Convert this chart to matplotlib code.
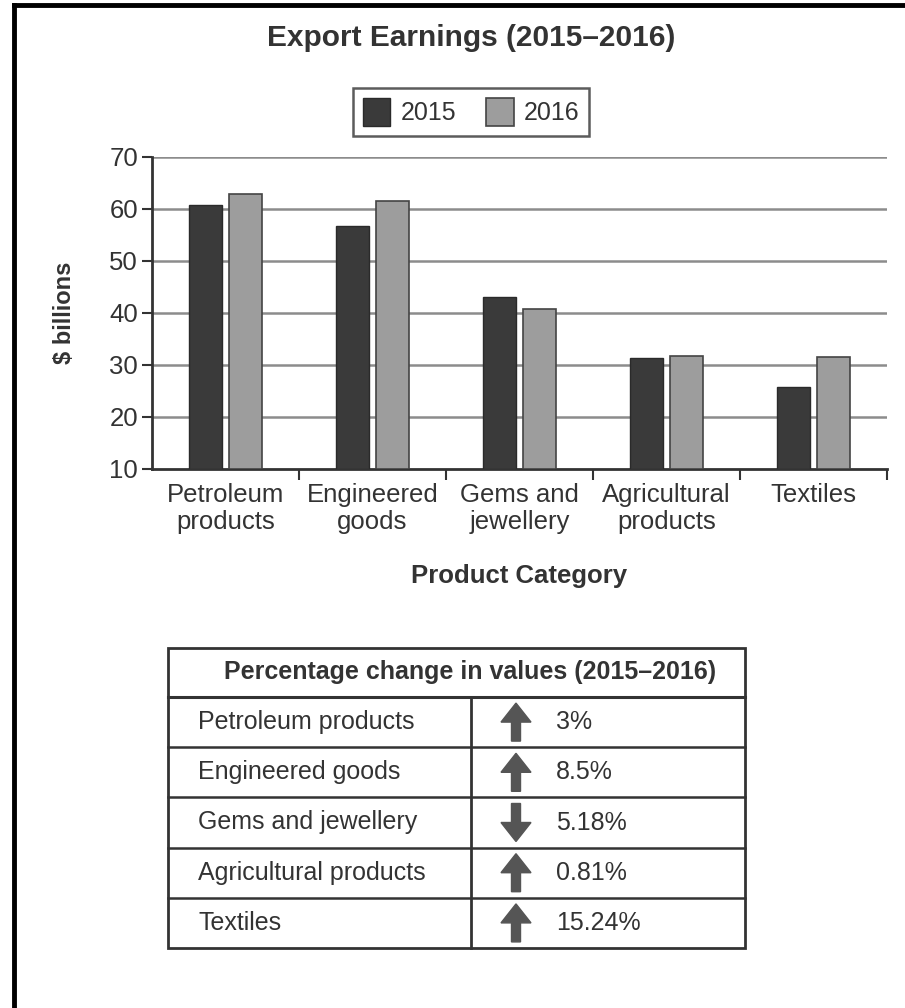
import matplotlib.pyplot as plt
import numpy as np
from matplotlib.patches import Rectangle, FancyArrow
from matplotlib.lines import Line2D

plt.rcParams['font.family'] = ['Liberation Sans', 'DejaVu Sans']

categories = ['Petroleum\nproducts', 'Engineered\ngoods', 'Gems and\njewellery',
              'Agricultural\nproducts', 'Textiles']
values_2015 = [60.8, 56.7, 43.1, 31.3, 25.8]
values_2016 = [62.9, 61.5, 40.8, 31.7, 31.6]
y_ticks = [10, 20, 30, 40, 50, 60, 70]

table_rows = ['Petroleum products', 'Engineered goods', 'Gems and jewellery',
              'Agricultural products', 'Textiles']
pct_change = ['3%', '8.5%', '5.18%', '0.81%', '15.24%']
direction = ['up', 'up', 'down', 'up', 'up']

text_c = '#333333'
dark = '#3a3a3a'
light = '#9d9d9d'

W, H = 905, 1008
fig = plt.figure(figsize=(W / 100, H / 100), dpi=100)

# bar chart
ax = fig.add_axes([152 / W, 1 - 469 / H, (887 - 152) / W, (469 - 157) / H])
x = np.arange(len(categories))
bw = 0.225
ax.bar(x - 0.138, np.array(values_2015) - 10, bw, bottom=10, color=dark,
       edgecolor='#2a2a2a', linewidth=1, label='2015', zorder=3)
ax.bar(x + 0.138, np.array(values_2016) - 10, bw, bottom=10, color=light,
       edgecolor='#444444', linewidth=1.2, label='2016', zorder=3)
ax.set_xlim(-0.5, len(categories) - 0.5)
ax.set_ylim(10, 70)
ax.set_yticks(y_ticks)
ax.tick_params(axis='y', labelsize=18.5, colors=text_c, length=7, width=1.5, pad=3)
ax.set_xticks(x)
ax.set_xticklabels(categories, fontsize=18.5, color=text_c, linespacing=1.15)
ax.tick_params(axis='x', length=0, pad=10)
ax.set_xticks(np.arange(0.5, len(categories)), minor=True)
ax.tick_params(axis='x', which='minor', length=8, width=1.5, color='#333333', direction='out')
for yv in y_ticks[1:]:
    ax.axhline(yv, color='#8c8c8c', linewidth=1.8, zorder=1)
for side in ['top', 'right']:
    ax.spines[side].set_visible(False)
for side in ['left', 'bottom']:
    ax.spines[side].set_linewidth(2)
    ax.spines[side].set_color('#333333')
ax.set_ylabel('$ billions', fontsize=17, fontweight='bold', color=text_c, labelpad=24)
ax.set_xlabel('Product Category', fontsize=18.5, fontweight='bold', color=text_c, labelpad=22)

fig.text(471 / W, 1 - 38 / H, 'Export Earnings (2015–2016)', ha='center', va='center',
         fontsize=21.5, fontweight='bold', color=text_c)
leg = fig.legend(loc='center', bbox_to_anchor=(471 / W, 1 - 112 / H), ncol=2, fontsize=18,
                 frameon=True, fancybox=False, edgecolor='#333333', handlelength=1.1,
                 handleheight=1.3, handletextpad=0.4, columnspacing=1.2, borderpad=0.4)
leg.get_frame().set_linewidth(1.8)
for t in leg.get_texts():
    t.set_color(text_c)

# overlay for table and frame, pixel coordinates
ov = fig.add_axes([0, 0, 1, 1])
ov.set_xlim(0, W)
ov.set_ylim(H, 0)
ov.axis('off')
ov.add_line(Line2D([14, 14], [5, H], color='black', linewidth=3.5))
ov.add_line(Line2D([14, W], [5, 5], color='black', linewidth=3.5))

tx0, tx1, tdiv = 168, 745, 471
ty0, thead, rh = 648, 697, 50.2
tb = thead + rh * len(table_rows)
ov.add_patch(Rectangle((tx0, ty0), tx1 - tx0, tb - ty0, fill=False, edgecolor='#333333', linewidth=2))
ov.add_line(Line2D([tx0, tx1], [thead, thead], color='#333333', linewidth=2.2))
ov.add_line(Line2D([tdiv, tdiv], [thead, tb], color='#333333', linewidth=2))
ov.text((tx0 + tx1) / 2 + 14, (ty0 + thead) / 2, 'Percentage change in values (2015–2016)',
        ha='center', va='center', fontsize=18, fontweight='bold', color=text_c)
for i, (name, pct, d) in enumerate(zip(table_rows, pct_change, direction)):
    yc = thead + rh * (i + 0.5)
    if i > 0:
        ov.add_line(Line2D([tx0, tx1], [thead + rh * i, thead + rh * i], color='#333333', linewidth=1.8))
    ov.text(198, yc, name, ha='left', va='center', fontsize=18, color=text_c)
    ov.text(556, yc, pct, ha='left', va='center', fontsize=18, color=text_c)
    if d == 'up':
        ov.add_patch(FancyArrow(516, yc + 19, 0, -38, width=9, head_width=30, head_length=19,
                                length_includes_head=True, color='#555555'))
    else:
        ov.add_patch(FancyArrow(516, yc - 19, 0, 38, width=9, head_width=30, head_length=19,
                                length_includes_head=True, color='#555555'))

fig.savefig('out.png', dpi=100)
